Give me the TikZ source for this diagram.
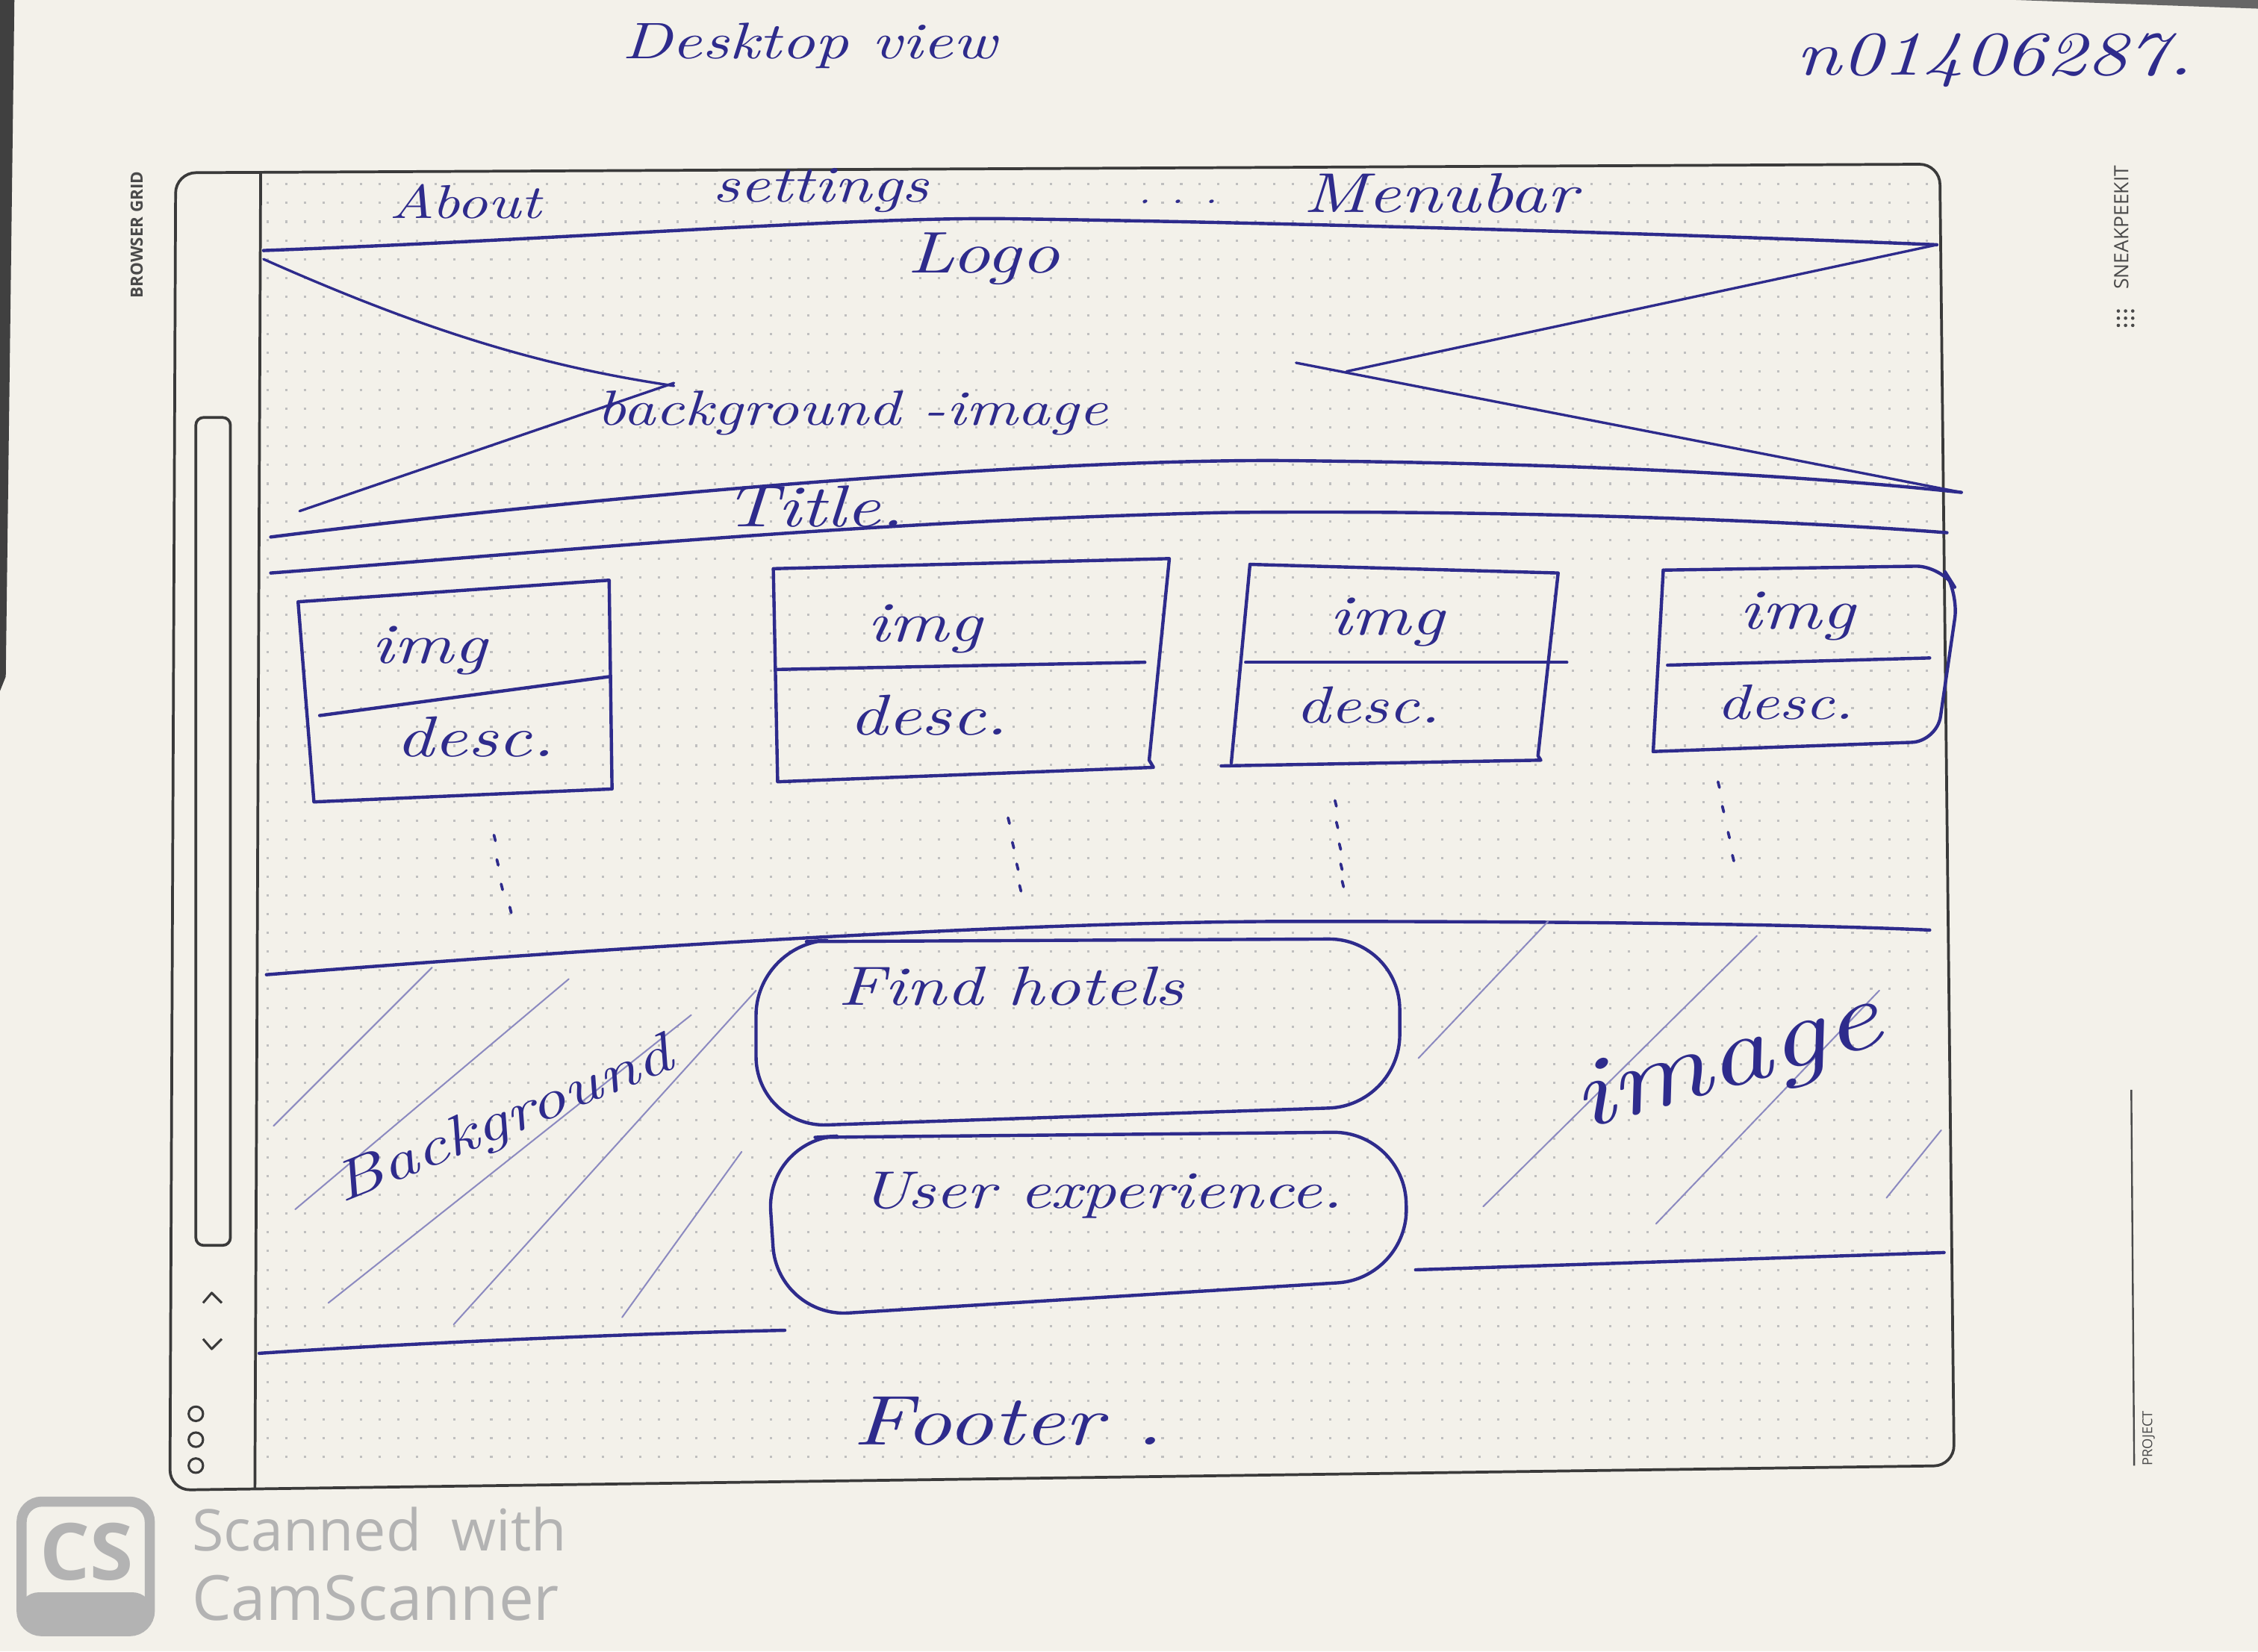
\documentclass[tikz,border=0pt]{standalone}
\usepackage{fontspec}
\setsansfont{Open Sans}
\usepackage{graphicx}
\definecolor{paper}{HTML}{F3F1EA}
\definecolor{ink}{HTML}{2E2B8C}
\definecolor{frameclr}{HTML}{3A3A3A}
\definecolor{printclr}{HTML}{4A4A4A}
\definecolor{csgray}{HTML}{B3B3B3}
\newcommand{\hw}[2]{\scalebox{1}[0.78]{\resizebox{#1cm}{!}{\itshape #2}}}
\newcommand{\pr}[2]{\resizebox{#1cm}{!}{\sffamily #2}}
\tikzset{
  inkline/.style={draw=ink, line width=1.3pt, line cap=round, line join=round},
  hatch/.style={draw=ink!55, line width=0.6pt, line cap=round},
  framel/.style={draw=frameclr, line width=1.1pt, line join=round},
  dotgrid/.style={draw=black!25, line width=0.9pt, dash pattern=on 0.9pt off 6.47pt},
  hwtext/.style={text=ink, inner sep=0pt},
  printtext/.style={text=printclr, inner sep=0pt},
}
\begin{document}
\begin{tikzpicture}[x=0.02cm, y=-0.02cm]
\useasboundingbox (0,0) rectangle (1568,1147);
\fill[paper] (0,0) rectangle (1568,1147);
% photo edges
\fill[black!75] (0,0) -- (10,0) -- (4,470) -- (0,480) -- cycle;
\fill[black!60] (1400,0) -- (1568,0) -- (1568,6) -- cycle;
% dot grid
\foreach \yy in {128,141,...,1020} \draw[dotgrid] (185,\yy) -- (1350,\yy);
% browser frame
\draw[framel, rounded corners=8pt] (122,120) -- (1347,114) -- (1357,1018) -- (118,1035) -- cycle;
\draw[framel] (181,120) -- (177,1034);
\draw[framel, rounded corners=3pt] (136,290) rectangle (160,865);
\draw[framel, line width=0.9pt] (141,905) -- (147,898) -- (154,905);
\draw[framel, line width=0.9pt] (141,930) -- (147,937) -- (154,930);
\foreach \cy in {982,1000,1018} \draw[framel, line width=0.9pt] (136,\cy) circle (5);
% printed labels
\node[printtext, rotate=90] (browsergrid) at (95,163) {\pr{1.76}{\bfseries BROWSER GRID}};
\node[printtext, rotate=90] (sneak) at (1473,158) {\pr{1.72}{SNEAKPEEKIT}};
\foreach \dx in {0,5,10} \foreach \dy in {0,5,10} \fill[printclr] (1471+\dx,216+\dy) circle (1.2);
\draw[draw=printclr, line width=0.7pt] (1480,757) -- (1482,1018);
\node[printtext, rotate=90] (project) at (1492,999) {\pr{0.76}{PROJECT}};
% handwritten top labels
\node[hwtext] (desk) at (562,32) {\hw{5.2}{Desktop view}};
\node[hwtext] (sid) at (1385,42) {\hw{5.5}{n01406287.}};
% menubar
\node[hwtext] (about) at (323,140) {\hw{2.1}{About}};
\node[hwtext] (settings) at (570,132) {\hw{3.0}{settings}};
\node[hwtext] (ellip) at (818,140) {\hw{1.1}{. . .}};
\node[hwtext] (menubar) at (1000,134) {\hw{3.8}{Menubar}};
\draw[inkline] (183,174) .. controls (400,166) and (600,150) .. (705,152) .. controls (850,154) and (1100,160) .. (1345,170);
\node[hwtext] (logo) at (683,180) {\hw{2.1}{Logo}};
% header background image cross
\draw[inkline, line width=1pt] (183,180) .. controls (300,232) and (380,255) .. (468,268);
\draw[inkline, line width=1pt] (208,355) -- (468,266);
\draw[inkline, line width=1pt] (1345,170) -- (935,258);
\draw[inkline, line width=1pt] (900,252) -- (1362,342);
\node[hwtext] (bgimg) at (592,287) {\hw{7.1}{background -image}};
\draw[inkline] (188,373) .. controls (450,340) and (750,318) .. (900,320) .. controls (1100,322) and (1250,330) .. (1362,342);
\node[hwtext] (title) at (565,352) {\hw{2.5}{Title.}};
\draw[inkline] (188,398) .. controls (400,382) and (600,362) .. (850,356) .. controls (1050,354) and (1250,362) .. (1352,370);
% cards
\draw[inkline] (207,418) -- (423,403) -- (425,548) -- (218,557) -- cycle;
\draw[inkline] (222,497) -- (423,470);
\node[hwtext] (img1) at (298,452) {\hw{1.6}{img}};
\node[hwtext] (desc1) at (330,512) {\hw{2.2}{desc.}};
\draw[inkline] (537,395) -- (812,388) -- (798,528) -- (801,533) -- (540,543) -- cycle;
\draw[inkline] (540,465) -- (795,460);
\node[hwtext] (img2) at (642,437) {\hw{1.6}{img}};
\node[hwtext] (desc2) at (645,497) {\hw{2.2}{desc.}};
\draw[inkline] (868,392) -- (1082,398) -- (1068,525) -- (1070,528) -- (848,532);
\draw[inkline] (868,392) -- (855,530);
\draw[inkline] (865,460) -- (1088,460);
\node[hwtext] (img3) at (963,432) {\hw{1.6}{img}};
\node[hwtext] (desc3) at (950,490) {\hw{2.0}{desc.}};
\draw[inkline, rounded corners=10pt] (1155,396) -- (1348,393) -- (1360,412) -- (1345,515) -- (1148,522);
\draw[inkline] (1155,396) -- (1148,522);
\draw[inkline] (1158,462) -- (1340,457);
\node[hwtext] (img4) at (1248,428) {\hw{1.6}{img}};
\node[hwtext] (desc4) at (1240,488) {\hw{1.9}{desc.}};
% vertical ellipses
\foreach \px/\py in {343/580,345/597,348/614,354/630} \draw[inkline, line width=1.1pt] (\px,\py) -- ++(1,4);
\foreach \px/\py in {700/568,703/585,706/600,708/615} \draw[inkline, line width=1.1pt] (\px,\py) -- ++(1,4);
\foreach \px/\py in {927/556,928/571,930/586,931/600,932/612} \draw[inkline, line width=1.1pt] (\px,\py) -- ++(1,4);
\foreach \px/\py in {1193/543,1196/560,1200/578,1203/594} \draw[inkline, line width=1.1pt] (\px,\py) -- ++(1,4);
% background section
\draw[inkline] (185,677) .. controls (400,660) and (700,640) .. (900,640) .. controls (1100,640) and (1250,642) .. (1340,646);
\draw[hatch] (190,782) -- (300,672);
\draw[hatch] (205,840) -- (395,680);
\draw[hatch] (228,905) -- (480,705);
\draw[hatch] (315,920) -- (525,688);
\draw[hatch] (432,915) -- (515,800);
\draw[hatch] (985,735) -- (1075,640);
\draw[hatch] (1030,838) -- (1220,650);
\draw[hatch] (1150,850) -- (1305,688);
\draw[hatch] (1310,832) -- (1348,785);
\draw[inkline, rounded corners=28pt] (560,654) -- (972,652) -- (972,768) -- (525,783) -- (525,656) -- (560,654);
\node[hwtext] (find) at (702,685) {\hw{4.8}{Find hotels}};
\draw[inkline, rounded corners=28pt] (566,790) -- (975,786) -- (978,888) -- (540,915) -- (532,792) -- (566,790);
\node[hwtext] (ux) at (765,830) {\hw{6.7}{User experience.}};
\draw[inkline] (983,882) -- (1350,870);
\draw[inkline] (180,940) .. controls (300,932) and (450,926) .. (545,924);
\node[hwtext, rotate=22] (bgd) at (350,780) {\hw{5.0}{Background}};
\node[hwtext, rotate=16] (image) at (1200,740) {\hw{4.4}{image}};
\node[hwtext] (footer) at (700,987) {\hw{4.3}{Footer .}};
% CamScanner mark
\fill[csgray, rounded corners=8pt] (13,1106) rectangle (106,1135);
\draw[csgray, line width=4pt, rounded corners=8pt] (15,1043) rectangle (104,1133);
\node[text=csgray, inner sep=0pt] (cs) at (60,1078) {\resizebox{1.3cm}{!}{\sffamily\bfseries CS}};
\node[text=csgray, inner sep=0pt, anchor=west] (scanned) at (133,1062) {\resizebox{5.2cm}{!}{\sffamily Scanned\ \ with}};
\node[text=csgray, inner sep=0pt, anchor=west] (camscanner) at (133,1110) {\resizebox{5.1cm}{!}{\sffamily CamScanner}};
\end{tikzpicture}
\end{document}
